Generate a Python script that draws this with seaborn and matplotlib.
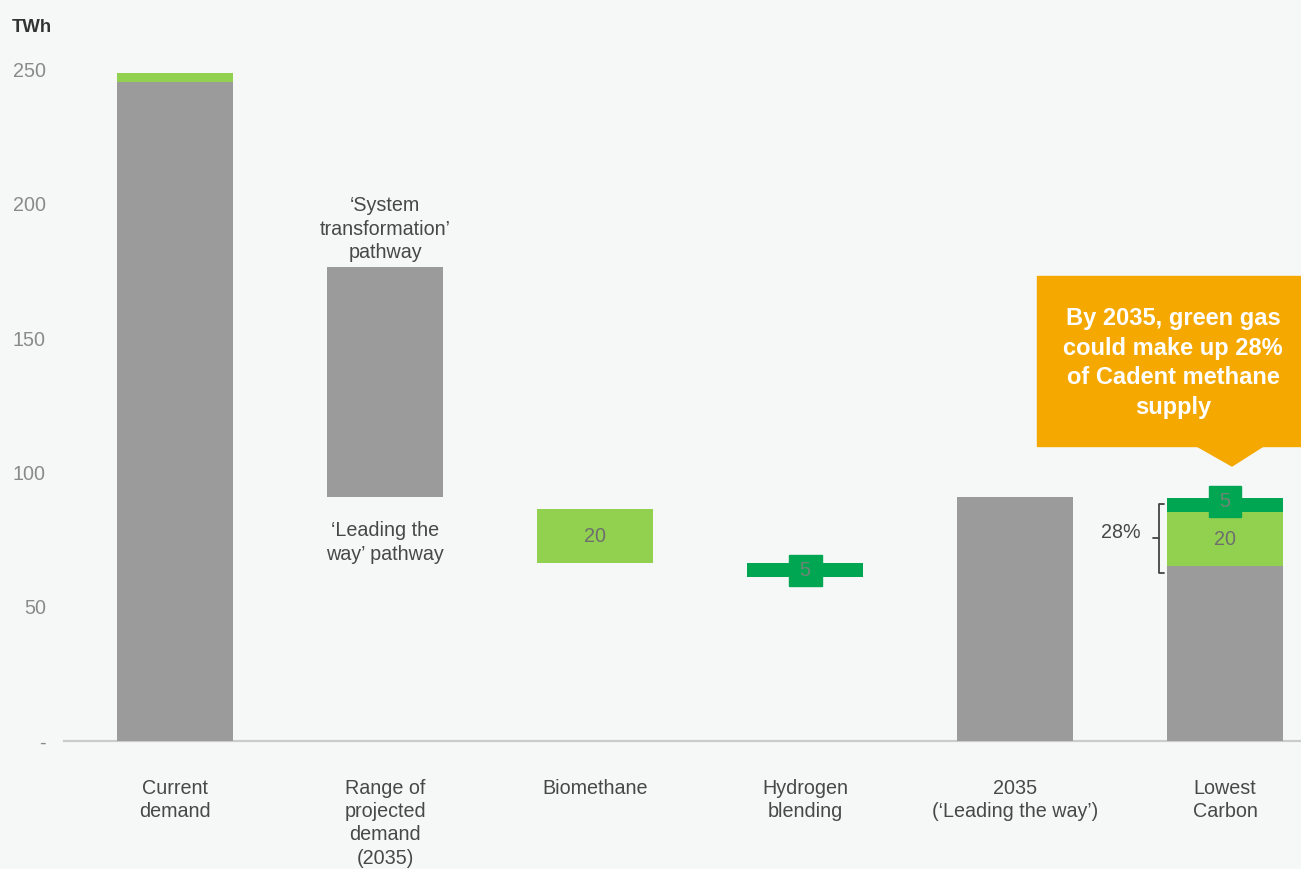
import matplotlib.pyplot as plt
import seaborn as sns
from matplotlib.patches import Rectangle, Polygon

# Data (TWh)
categories = ['Current\ndemand', 'Range of\nprojected\ndemand\n(2035)', 'Biomethane',
              'Hydrogen\nblending', '2035\n(\u2018Leading the way\u2019)', 'Lowest\nCarbon']
grey_base = [0, 91, 0, 0, 0, 0]
grey_height = [245.3, 85.5, 0, 0, 91, 65.3]
light_base = [245.3, 0, 66.3, 0, 0, 65.3]
light_height = [3.3, 0, 20, 0, 0, 19.8]
dark_base = [0, 0, 0, 61, 0, 85.1]
dark_height = [0, 0, 0, 5.2, 0, 5.5]
yticks = [0, 50, 100, 150, 200, 250]
ytick_labels = ['-', '50', '100', '150', '200', '250']

BG = '#f6f8f8'
GREY = '#9b9b9b'
LIGHT = '#92d050'
DARK = '#00a651'
TXT = '#484848'

sns.set_theme(style='white')
plt.rcParams['font.family'] = ['Liberation Sans', 'DejaVu Sans']

fig = plt.figure(figsize=(13.01, 8.69), dpi=100, facecolor=BG)
ax = fig.add_axes([64 / 1301, 128 / 869, 1237 / 1301, 703.5 / 869])
ax.set_facecolor(BG)


def layer(heights, bases, color):
    n0 = len(ax.patches)
    sns.barplot(x=categories, y=heights, color=color, saturation=1, width=0.553,
                ax=ax, order=categories, linewidth=0)
    for p, b in zip(ax.patches[n0:], bases):
        p.set_y(b)


layer(grey_height, grey_base, GREY)
layer(light_height, light_base, LIGHT)
layer(dark_height, dark_base, DARK)

ax.set_xlim(-0.529, 5.362)
ax.set_ylim(0, 262)
ax.set_xlabel('')
ax.set_ylabel('')
for s in ['top', 'right', 'left']:
    ax.spines[s].set_visible(False)
ax.spines['bottom'].set_color('#cbcbcb')
ax.spines['bottom'].set_linewidth(1.6)
ax.spines['bottom'].set_zorder(0.5)

ax.set_yticks(yticks)
ax.set_yticklabels(ytick_labels)
ax.tick_params(axis='y', length=0, pad=13, labelsize=14.2, labelcolor='#8a8a8a')
ax.tick_params(axis='x', length=0, pad=27, labelsize=14.2, labelcolor=TXT)
for t in ax.get_xticklabels():
    t.set_linespacing(1.3)

# segment labels
ax.text(2, light_base[2] + light_height[2] / 2, '20', ha='center', va='center',
        fontsize=14.2, color='#6e6e6e')
ax.text(5, light_base[5] + light_height[5] / 2, '20', ha='center', va='center',
        fontsize=14.2, color='#6e6e6e')

# small "5" boxes for hydrogen
for i, yc in [(3, dark_base[3] + dark_height[3] / 2),
              (5, dark_base[5] + dark_height[5] / 2 + 1.5)]:
    ax.add_patch(Rectangle((i - 0.0785, yc - 5.75), 0.157, 11.5, color=DARK, zorder=3))
    ax.text(i, yc, '5', ha='center', va='center', fontsize=14.2, color='#6f8577', zorder=4)

# pathway annotations
ax.text(1, grey_base[1] + grey_height[1] + 14, '\u2018System\ntransformation\u2019\npathway',
        ha='center', va='center', fontsize=14.2, color=TXT, linespacing=1.3)
ax.text(1, grey_base[1] - 17, '\u2018Leading the\nway\u2019 pathway',
        ha='center', va='center', fontsize=14.2, color=TXT, linespacing=1.3)

# bracket 28%
lo = grey_height[5] - 2.6
hi = dark_base[5] + dark_height[5] - 2.3
mid = (lo + hi) / 2
bx = 4.686
ax.plot([bx + 0.025, bx, bx, bx + 0.025], [hi, hi, lo, lo], color='#444444', lw=1.3)
ax.plot([bx - 0.03, bx], [mid, mid], color='#444444', lw=1.3)
ax.text(4.505, mid + 2, '28%', ha='center', va='center', fontsize=14.2, color=TXT)

# unit label
fig.text(12 / 1301, 1 - 27 / 869, 'TWh', ha='left', va='center', fontsize=13.3,
         fontweight='bold', color='#333333')

# orange callout
W, H = 1301, 869
ORANGE = '#f5a800'
fig.add_artist(Rectangle((1037 / W, 1 - 446 / H), (W - 1037) / W, (446 - 276) / H,
                         transform=fig.transFigure, color=ORANGE, zorder=5))
fig.add_artist(Polygon([(1195 / W, 1 - 445 / H), (1265 / W, 1 - 445 / H), (1232 / W, 1 - 466 / H)],
                       closed=True, transform=fig.transFigure, color=ORANGE, zorder=5))
fig.text(1173 / W, 1 - 363 / H, 'By 2035, green gas\ncould make up 28%\nof Cadent methane\nsupply',
         ha='center', va='center', fontsize=17, fontweight='bold', color='white',
         linespacing=1.36, zorder=6)

fig.savefig('out.png', dpi=100, facecolor=BG)
